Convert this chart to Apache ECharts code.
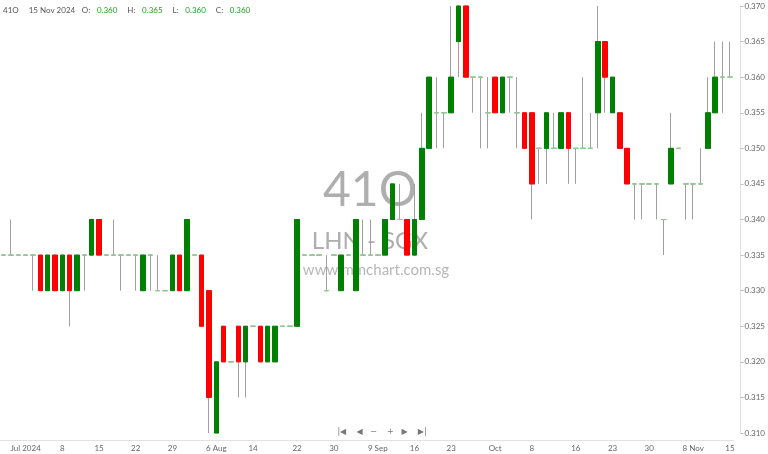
<!DOCTYPE html>
<html>
<head>
<meta charset="utf-8">
<title>41O LHN - SGX</title>
<script src="https://cdn.jsdelivr.net/npm/echarts/dist/echarts.min.js"></script>
<style>
  html, body { margin: 0; padding: 0; background: #fff; }
  #chart { width: 768px; height: 454px; }
</style>
</head>
<body>
<div id="chart"></div>
<script>
// trading days shown (one late-August day has no bar)
var junDays = [26, 27, 28];
var julDays = [1, 2, 3, 4, 5, 8, 9, 10, 11, 12, 15, 16, 17, 18, 19, 22, 23, 24, 25, 26, 29, 30, 31];
var augDays = [1, 2, 5, 6, 7, 8, 12, 13, 14, 15, 16, 19, 20, 21, 22, 23, 27, 28, 29, 30];
var sepDays = [2, 3, 4, 5, 6, 9, 10, 11, 12, 13, 16, 17, 18, 19, 20, 23, 24, 25, 26, 27, 30];
var octDays = [1, 2, 3, 4, 7, 8, 9, 10, 11, 14, 15, 16, 17, 18, 21, 22, 23, 24, 25, 28, 29, 30];
var novDays = [1, 4, 5, 6, 7, 8, 11, 12, 13, 14, 15];

var opens = [
  0.335, 0.335, 0.335, 0.335, 0.335, 0.335, 0.330, 0.335, 0.330, 0.335,
  0.330, 0.335, 0.335, 0.340, 0.335, 0.335, 0.335, 0.335, 0.335, 0.330,
  0.335, 0.330, 0.330, 0.330, 0.335, 0.330, 0.335, 0.335, 0.330, 0.310,
  0.325, 0.320, 0.325, 0.320, 0.325, 0.325, 0.320, 0.320, 0.325, 0.325,
  0.325, 0.335, 0.335, 0.335, 0.330, 0.335, 0.330, 0.335, 0.330, 0.335,
  0.335, 0.335, 0.335, 0.340, 0.340, 0.340, 0.335, 0.340, 0.350, 0.355,
  0.355, 0.355, 0.365, 0.370, 0.360, 0.360, 0.355, 0.360, 0.355, 0.360,
  0.355, 0.355, 0.355, 0.350, 0.350, 0.350, 0.350, 0.355, 0.350, 0.350,
  0.350, 0.355, 0.365, 0.355, 0.355, 0.350, 0.345, 0.345, 0.345, 0.345,
  0.340, 0.345, 0.350, 0.345, 0.345, 0.345, 0.350, 0.355, 0.360, 0.360
];
var closes = [
  0.335, 0.335, 0.335, 0.335, 0.335, 0.330, 0.335, 0.330, 0.335, 0.330,
  0.335, 0.335, 0.340, 0.335, 0.335, 0.335, 0.335, 0.335, 0.335, 0.335,
  0.335, 0.330, 0.330, 0.335, 0.330, 0.340, 0.335, 0.325, 0.315, 0.320,
  0.320, 0.320, 0.320, 0.325, 0.325, 0.320, 0.325, 0.325, 0.325, 0.325,
  0.340, 0.335, 0.335, 0.335, 0.330, 0.335, 0.335, 0.335, 0.340, 0.335,
  0.335, 0.335, 0.340, 0.345, 0.340, 0.335, 0.340, 0.350, 0.360, 0.355,
  0.355, 0.360, 0.370, 0.360, 0.360, 0.360, 0.355, 0.355, 0.360, 0.360,
  0.355, 0.350, 0.345, 0.350, 0.355, 0.350, 0.355, 0.350, 0.350, 0.350,
  0.350, 0.365, 0.360, 0.360, 0.350, 0.345, 0.345, 0.345, 0.345, 0.345,
  0.340, 0.350, 0.350, 0.345, 0.345, 0.345, 0.355, 0.360, 0.360, 0.360
];
var lows = [
  0.335, 0.335, 0.335, 0.335, 0.330, 0.330, 0.330, 0.330, 0.330, 0.325,
  0.330, 0.330, 0.335, 0.335, 0.335, 0.335, 0.330, 0.335, 0.330, 0.330,
  0.330, 0.330, 0.330, 0.330, 0.330, 0.330, 0.335, 0.325, 0.310, 0.310,
  0.320, 0.320, 0.315, 0.315, 0.325, 0.320, 0.320, 0.320, 0.325, 0.325,
  0.325, 0.335, 0.335, 0.335, 0.330, 0.335, 0.330, 0.335, 0.330, 0.335,
  0.335, 0.335, 0.335, 0.340, 0.340, 0.335, 0.335, 0.340, 0.350, 0.350,
  0.350, 0.355, 0.360, 0.360, 0.355, 0.350, 0.350, 0.355, 0.355, 0.355,
  0.350, 0.350, 0.340, 0.345, 0.345, 0.350, 0.350, 0.345, 0.345, 0.350,
  0.350, 0.350, 0.355, 0.355, 0.350, 0.345, 0.340, 0.340, 0.345, 0.340,
  0.335, 0.345, 0.350, 0.340, 0.340, 0.345, 0.350, 0.355, 0.355, 0.360
];
var highs = [
  0.335, 0.340, 0.335, 0.335, 0.335, 0.335, 0.335, 0.335, 0.335, 0.335,
  0.335, 0.335, 0.340, 0.340, 0.335, 0.340, 0.335, 0.335, 0.335, 0.335,
  0.335, 0.335, 0.330, 0.335, 0.335, 0.340, 0.335, 0.335, 0.330, 0.320,
  0.325, 0.320, 0.325, 0.325, 0.325, 0.325, 0.325, 0.325, 0.325, 0.325,
  0.340, 0.335, 0.335, 0.335, 0.335, 0.335, 0.335, 0.335, 0.340, 0.340,
  0.340, 0.335, 0.340, 0.345, 0.345, 0.340, 0.345, 0.355, 0.360, 0.360,
  0.355, 0.370, 0.370, 0.370, 0.360, 0.360, 0.360, 0.360, 0.360, 0.360,
  0.360, 0.355, 0.355, 0.350, 0.355, 0.355, 0.355, 0.355, 0.350, 0.360,
  0.355, 0.370, 0.365, 0.360, 0.355, 0.350, 0.345, 0.345, 0.345, 0.345,
  0.340, 0.355, 0.350, 0.345, 0.345, 0.350, 0.360, 0.365, 0.365, 0.365
];

// x axis labels: date -> text
var tickDates = ['2024-07-01', '2024-07-08', '2024-07-15', '2024-07-22', '2024-07-29',
  '2024-08-06', '2024-08-14', '2024-08-22', '2024-08-30', '2024-09-09', '2024-09-16',
  '2024-09-23', '2024-10-01', '2024-10-08', '2024-10-16', '2024-10-23', '2024-10-30',
  '2024-11-08', '2024-11-15'];
var tickTexts = ['Jul 2024', '8', '15', '22', '29', '6 Aug', '14', '22', '30', '9 Sep',
  '16', '23', 'Oct', '8', '16', '23', '30', '8 Nov', '15'];

function pad(n) { return n < 10 ? '0' + n : '' + n; }
var dates = [];
[[6, junDays], [7, julDays], [8, augDays], [9, sepDays], [10, octDays], [11, novDays]].forEach(function (m) {
  m[1].forEach(function (d) { dates.push('2024-' + pad(m[0]) + '-' + pad(d)); });
});

// wick series (grey) and body series (coloured, no wick)
var wickData = [], bodyData = [];
for (var i = 0; i < opens.length; i++) {
  wickData.push([opens[i], closes[i], lows[i], highs[i]]);
  bodyData.push([opens[i], closes[i], Math.min(opens[i], closes[i]), Math.max(opens[i], closes[i])]);
}
var last = opens.length - 1;

function showTick(idx, value) { return tickDates.indexOf(value) >= 0; }

var myChart = echarts.init(document.getElementById('chart'));
var fontFamily = 'Lato, "Open Sans", sans-serif';
var green = '#22a022';
var grey = '#555';

var option = {
  animation: false,
  backgroundColor: '#fff',
  textStyle: { fontFamily: fontFamily },
  grid: { left: 0, right: 33, top: 6, bottom: 21 },
  xAxis: {
    type: 'category',
    data: dates,
    boundaryGap: true,
    offset: 7,
    axisLine: { lineStyle: { color: '#e2e2e2' } },
    axisTick: { interval: showTick, length: 3, alignWithLabel: true, lineStyle: { color: '#ccc' } },
    axisLabel: {
      interval: showTick,
      fontSize: 8,
      color: '#666',
      margin: 4,
      formatter: function (v) {
        var k = tickDates.indexOf(v);
        return k >= 0 ? tickTexts[k] : '';
      }
    },
    splitLine: { show: false }
  },
  yAxis: {
    type: 'value',
    position: 'right',
    min: 0.310,
    max: 0.370,
    interval: 0.005,
    offset: 7,
    axisLine: { show: true, lineStyle: { color: '#e2e2e2' } },
    axisTick: { show: true, length: 3, lineStyle: { color: '#bbb' } },
    axisLabel: {
      fontSize: 8,
      color: '#666',
      margin: 4,
      formatter: function (v) { return v.toFixed(3); }
    },
    splitLine: { show: false }
  },
  graphic: [
    // header line
    {
      type: 'text', left: 3, top: 4, z: 10,
      style: {
        text: '{a|41O}   {a|15 Nov 2024}  {a|O:}  {g|' + opens[last].toFixed(3) + '}   {a|H:}  {g|' +
          highs[last].toFixed(3) + '}   {a|L:}  {g|' + lows[last].toFixed(3) + '}   {a|C:}  {g|' +
          closes[last].toFixed(3) + '}',
        rich: {
          a: { fontSize: 8, fill: grey, fontFamily: fontFamily },
          g: { fontSize: 8, fill: green, fontFamily: fontFamily }
        }
      }
    },
    // watermark
    {
      type: 'text', x: 370, y: 191, z: -5,
      style: { text: '41O', fontSize: 48, fill: '#9a9a9a', opacity: 0.8, align: 'center', verticalAlign: 'middle', fontFamily: fontFamily }
    },
    {
      type: 'text', x: 370, y: 241, z: -5,
      style: { text: 'LHN - SGX', fontSize: 24, fill: '#9a9a9a', opacity: 0.8, align: 'center', verticalAlign: 'middle', fontFamily: fontFamily }
    },
    {
      type: 'text', x: 376, y: 270, z: -5,
      style: { text: 'www.mmchart.com.sg', fontSize: 15, fill: '#a5a5a5', opacity: 0.8, align: 'center', verticalAlign: 'middle', fontFamily: fontFamily }
    },
    // navigation buttons
    {
      type: 'text', x: 382, y: 432, z: 10,
      style: { text: '|◀    ◀   −    +   ▶    ▶|', fontSize: 8, fill: '#777', align: 'center', verticalAlign: 'middle', fontFamily: '"DejaVu Sans", sans-serif' }
    }
  ],
  series: [
    {
      name: 'wick',
      type: 'candlestick',
      data: wickData,
      barWidth: 5,
      z: 2,
      itemStyle: {
        color: 'transparent',
        color0: 'transparent',
        borderColor: '#a0a0a0',
        borderColor0: '#a0a0a0',
        borderColorDoji: '#a0a0a0',
        borderWidth: 1
      }
    },
    {
      name: '41O',
      type: 'candlestick',
      data: bodyData,
      barWidth: 5,
      z: 3,
      itemStyle: {
        color: '#008000',
        color0: '#ff0000',
        borderColor: '#008000',
        borderColor0: '#ff0000',
        borderColorDoji: '#8fcc8f',
        borderWidth: 1
      },
      markLine: {
        silent: true,
        symbol: 'none',
        data: [{ yAxis: closes[last] }],
        lineStyle: { opacity: 0 },
        label: {
          show: true,
          position: 'end',
          distance: 10,
          formatter: closes[last].toFixed(3),
          backgroundColor: '#158a15',
          color: '#fff',
          fontSize: 8,
          fontWeight: 'bold',
          padding: [2, 3, 2, 3],
          borderRadius: 2
        }
      }
    }
  ]
};

if (option && typeof option === 'object') {
  myChart.setOption(option);
}
window.addEventListener('resize', myChart.resize);
</script>
</body>
</html>
